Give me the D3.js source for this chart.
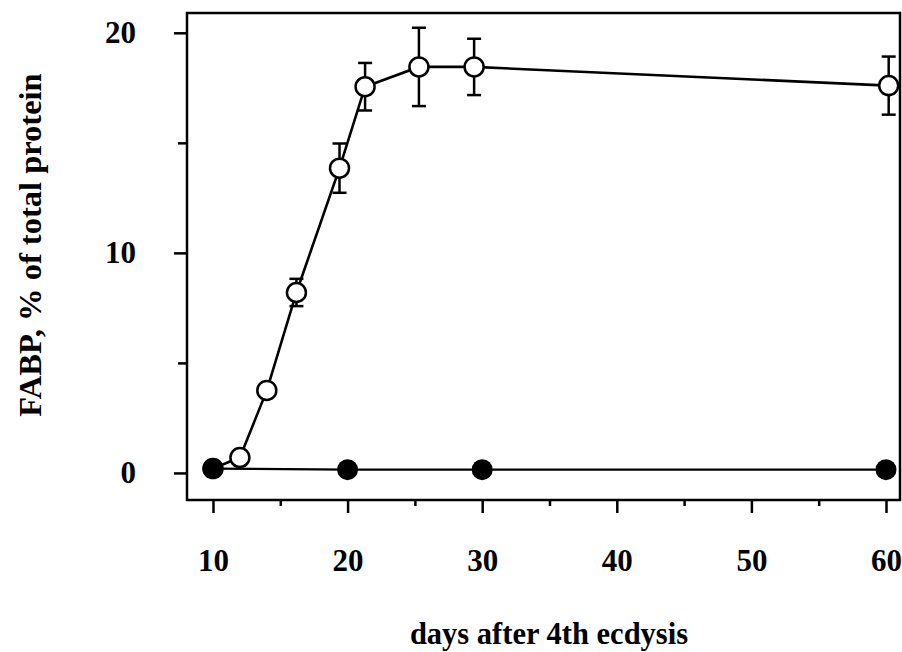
<!DOCTYPE html>
<html>
<head>
<meta charset="utf-8">
<script src="https://cdn.jsdelivr.net/npm/d3@7/dist/d3.min.js"></script>
<style>
  html, body { margin: 0; padding: 0; background: #fff; }
  svg { display: block; }
  text { font-family: "Liberation Serif", "Times New Roman", serif; font-weight: bold; fill: #000; }
</style>
</head>
<body>
<svg id="chart" width="902" height="652"></svg>
<script>
// FABP content of the fat body, open = treated series, filled = control series
const daysOpen  = [10, 12, 14, 16.2, 19.4, 21.3, 25.3, 29.4, 60.2];
const fabpOpen  = [0.2, 0.7, 3.75, 8.2, 13.85, 17.55, 18.45, 18.45, 17.6];
const errOpen   = [0, 0, 0, 0.62, 1.12, 1.08, 1.78, 1.28, 1.32];

const daysFilled = [10, 20, 30, 60];
const fabpFilled = [0.2, 0.15, 0.15, 0.15];

const xMajorTicks = [10, 20, 30, 40, 50, 60];
const xMinorTicks = [15, 25, 35, 45, 55];
const yMajorTicks = [0, 10, 20];
const yMinorTicks = [5, 15];

const xTitle = "days after 4th ecdysis";
const yTitle = "FABP, % of total protein";

const W = 902, H = 652;
const margin = { top: 13, right: 2, bottom: 152, left: 187 };
const svg = d3.select("#chart");

const x = d3.scaleLinear().domain([8.07, 61.04]).range([margin.left, W - margin.right]);
const y = d3.scaleLinear().domain([-1.23, 20.9]).range([H - margin.bottom, margin.top]);

// frame
svg.append("rect")
  .attr("x", margin.left).attr("y", margin.top)
  .attr("width", W - margin.left - margin.right)
  .attr("height", H - margin.top - margin.bottom)
  .attr("fill", "none").attr("stroke", "#000").attr("stroke-width", 2.5);

function styleAxis(g) {
  g.select(".domain").remove();
  g.selectAll(".tick line").attr("stroke", "#000").attr("stroke-width", 2.5);
  g.selectAll(".tick text").attr("font-size", 31).attr("font-family", null).attr("fill", "#000");
}

// bottom axis
svg.append("g")
  .attr("transform", `translate(0,${H - margin.bottom})`)
  .call(d3.axisBottom(x).tickValues(xMajorTicks).tickSize(13).tickPadding(36).tickFormat(d3.format("d")))
  .call(styleAxis);
svg.append("g")
  .attr("transform", `translate(0,${H - margin.bottom})`)
  .call(d3.axisBottom(x).tickValues(xMinorTicks).tickSize(6).tickFormat(""))
  .call(styleAxis);

// left axis
svg.append("g")
  .attr("transform", `translate(${margin.left},0)`)
  .call(d3.axisLeft(y).tickValues(yMajorTicks).tickSize(13).tickPadding(38).tickFormat(d3.format("d")))
  .call(styleAxis);
svg.append("g")
  .attr("transform", `translate(${margin.left},0)`)
  .call(d3.axisLeft(y).tickValues(yMinorTicks).tickSize(9).tickFormat(""))
  .call(styleAxis);

// axis titles
svg.append("text")
  .attr("x", 549).attr("y", 644)
  .attr("text-anchor", "middle")
  .attr("font-size", 30.5)
  .text(xTitle);

svg.append("text")
  .attr("transform", "translate(41,245) rotate(-90)")
  .attr("text-anchor", "middle")
  .attr("font-size", 32.5)
  .text(yTitle);

const openPts = daysOpen.map((d, i) => ({ d, v: fabpOpen[i], e: errOpen[i] }));
const filledPts = daysFilled.map((d, i) => ({ d, v: fabpFilled[i] }));

const line = d3.line().x(p => x(p.d)).y(p => y(p.v));

// control series line
svg.append("path")
  .datum(filledPts)
  .attr("d", line)
  .attr("fill", "none").attr("stroke", "#000").attr("stroke-width", 2.2);

// treated series line
svg.append("path")
  .datum(openPts)
  .attr("d", line)
  .attr("fill", "none").attr("stroke", "#000").attr("stroke-width", 2.6);

// error bars
const eb = svg.append("g").attr("stroke", "#000").attr("stroke-width", 2.5);
openPts.filter(p => p.e > 0).forEach(p => {
  const cx = x(p.d);
  eb.append("line").attr("x1", cx).attr("x2", cx).attr("y1", y(p.v + p.e)).attr("y2", y(p.v - p.e));
  eb.append("line").attr("x1", cx - 7).attr("x2", cx + 7).attr("y1", y(p.v + p.e)).attr("y2", y(p.v + p.e));
  eb.append("line").attr("x1", cx - 7).attr("x2", cx + 7).attr("y1", y(p.v - p.e)).attr("y2", y(p.v - p.e));
});

// open markers
svg.append("g").selectAll("circle")
  .data(openPts)
  .join("circle")
  .attr("cx", p => x(p.d)).attr("cy", p => y(p.v)).attr("r", 9.5)
  .attr("fill", "#fff").attr("stroke", "#000").attr("stroke-width", 2.5);

// filled markers
svg.append("g").selectAll("circle")
  .data(filledPts)
  .join("circle")
  .attr("cx", p => x(p.d)).attr("cy", p => y(p.v)).attr("r", 10.5)
  .attr("fill", "#000");
</script>
</body>
</html>
